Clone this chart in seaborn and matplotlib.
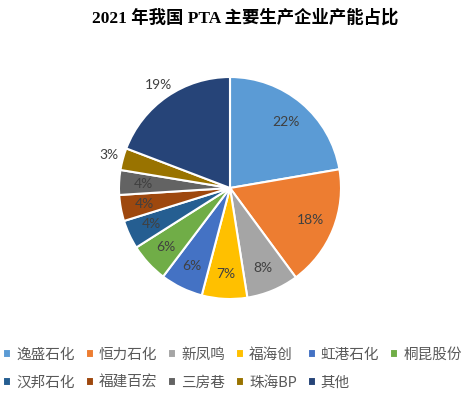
import matplotlib
matplotlib.use('Agg')
import matplotlib.pyplot as plt
import seaborn as sns

# 2021 PTA capacity share by producer
companies = ['逸盛石化', '恒力石化', '新凤鸣', '福海创', '虹港石化', '桐昆股份',
             '汉邦石化', '福建百宏', '三房巷', '珠海BP', '其他']
shares = [22.3, 17.6, 7.6, 6.6, 6.2, 5.7, 4.2, 3.8, 3.6, 3.2, 19.2]
colors = ['#5B9BD5', '#ED7D31', '#A5A5A5', '#FFC000', '#4472C4', '#70AD47',
          '#255E91', '#9E480E', '#636363', '#997300', '#264478']
outside = ['珠海BP', '其他']

sns.set_theme(style='white')
plt.rcParams['font.family'] = ['Lato', 'Noto Sans CJK SC', 'DejaVu Sans']

fig = plt.figure(figsize=(4.62, 3.98), dpi=100)
fig.patch.set_facecolor('white')

# pie centred at (230, 188) px, radius ~111 px
cx, cy, r = 230, 398 - 188, 111
ax = fig.add_axes([(cx - r) / 462, (cy - r) / 398, 2 * r / 462, 2 * r / 398])

wedges, texts, autotexts = ax.pie(
    shares, colors=sns.color_palette(colors), startangle=90, counterclock=False,
    autopct='%1.0f%%', pctdistance=0.78,
    wedgeprops=dict(edgecolor='white', linewidth=1.5),
    textprops=dict(color='#404040', fontsize=10))

for name, t in zip(companies, autotexts):
    if name in outside:
        x, y = t.get_position()
        k = 1.13 / 0.78
        t.set_position((x * k, y * k))

ax.set_xlim(-1, 1)
ax.set_ylim(-1, 1)
ax.set_aspect('auto')

fig.text(245 / 462, 1 - 18 / 398, '2021 年我国 PTA 主要生产企业产能占比',
         ha='center', va='center', fontsize=12.5, fontweight='bold',
         family=['Liberation Serif', 'Noto Sans CJK SC'], color='black')

# legend fills column by column, so reorder to read row by row
order = [0, 6, 1, 7, 2, 8, 3, 9, 4, 10, 5]
fig.legend([wedges[i] for i in order], [companies[i] for i in order],
           loc='upper left', bbox_to_anchor=(3 / 462, 1 - 348 / 398),
           ncol=6, frameon=False, fontsize=10.5, labelcolor='#595959',
           handlelength=0.55, handleheight=0.55, handletextpad=0.35,
           columnspacing=0.75, labelspacing=0.95, borderaxespad=0, borderpad=0)

fig.savefig('out.png', dpi=100, facecolor='white')
